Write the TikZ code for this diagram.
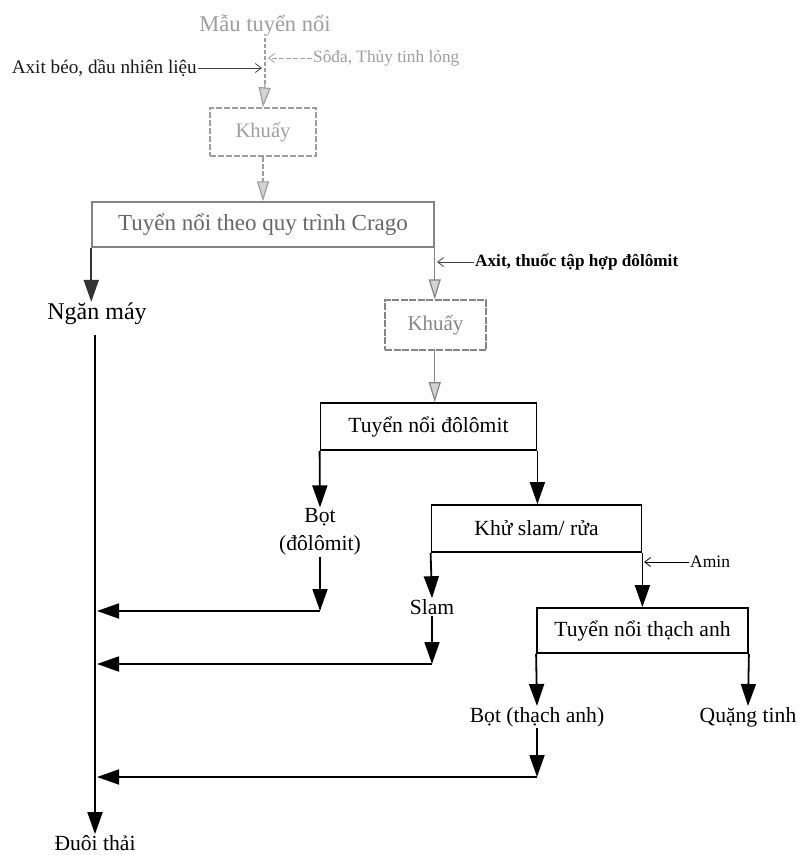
\documentclass[tikz,border=0pt]{standalone}
\usepackage{fontspec}
\setmainfont{Liberation Serif}
\usetikzlibrary{arrows.meta}
\definecolor{fadeA}{gray}{0.62}
\definecolor{fadeB}{gray}{0.40}
\definecolor{fadeC}{gray}{0.52}
\tikzset{
  ln/.style={line width=1.8pt},
  tri/.style={ln,-{Triangle[length=22pt,width=15pt]}},
  gtri/.style={line width=1.2pt,-{Triangle[length=20pt,width=12pt,fill=fadeA!45]}},
  barb/.style={line width=0.8pt,-{Straight Barb[length=6pt,width=9pt]}},
  lbl/.style={inner sep=1pt,font=\fontsize{21.6}{25}\selectfont},
  sml/.style={inner sep=1pt,font=\fontsize{18}{20}\selectfont},
  boxA/.style={draw,line width=1.8pt,inner sep=0pt,font=\fontsize{21.6}{24}\selectfont},
}
\begin{document}
\begin{tikzpicture}[x=1pt,y=-1pt]
\useasboundingbox (0,0) rectangle (801,855);

% top (faded) part
\node[sml,fadeA,font=\fontsize{22.5}{24}\selectfont] (mau) at (265,26) {Mẫu tuyển nổi};
\node[sml,anchor=east,text=black!90,font=\fontsize{19.2}{21}\selectfont] (axb) at (198,68) {Axit béo, dầu nhiên liệu};
\node[sml,anchor=west,fadeA,font=\fontsize{17.3}{19}\selectfont] (soda) at (312,58) {Sôđa, Thủy tinh lỏng};
\coordinate (jl) at (262,68);
\coordinate (jr) at (268,58);
\node[boxA,draw=fadeA,text=fadeA,line width=1.3pt,dash pattern=on 6pt off 2pt,minimum width=106pt,minimum height=48pt,font=\fontsize{20.6}{23}\selectfont] (k1) at (263,132) {Khuấy};
\draw[fadeA,line width=1.1pt,dash pattern=on 4pt off 2pt] (mau.south) -- (265,84);
\coordinate (a1) at (265,84);
\draw[gtri,draw=fadeA] (a1) -- (k1.north);
\draw[barb,black!75] (axb.east) -- (jl);
\draw[barb,fadeA,dash pattern=on 5pt off 2pt] (soda.west) -- (jr);

\node[boxA,draw=fadeC,text=fadeB,line width=1.5pt,minimum width=342pt,minimum height=45pt,font=\fontsize{23}{25}\selectfont] (crago) at (263,224.5) {Tuyển nổi theo quy trình Crago};
\draw[gtri,draw=fadeA,dash pattern=on 5pt off 2pt] (k1.south) -- (crago.north -| k1.south);

\node[lbl,font=\fontsize{24}{26}\selectfont] (ngan) at (97,314) {Ngăn máy};
\draw[tri,black!80] (crago.south west) -- (ngan.north -| crago.south west);

\node[boxA,draw=fadeC,text=fadeC,line width=1.4pt,dash pattern=on 7pt off 1.5pt,minimum width=101pt,minimum height=50pt,font=\fontsize{21}{23}\selectfont] (k2) at (435.5,325) {Khuấy};
\coordinate (cr) at (434,247);
\draw[gtri,draw=fadeC] (crago.south east) -- (k2.north -| crago.south east);
\node[sml,anchor=west,font=\bfseries\fontsize{17.2}{19}\selectfont] (ax2) at (474,262) {Axit, thuốc tập hợp đôlômit};
\coordinate (ja) at (437,262);
\draw[barb,black!75] (ax2.west) -- (ja);

% dolomite flotation
\node[boxA,minimum width=216pt,minimum height=47pt] (dolo) at (428.5,426.5) {Tuyển nổi đôlômit};
\draw[gtri,draw=fadeC] (k2.south -| crago.south east) -- (dolo.north -| crago.south east);

\node[lbl,align=center,font=\fontsize{21.6}{28}\selectfont] (bot1) at (320,532) {Bọt\\(đôlômit)};
\draw[tri] (dolo.south west) -- (bot1.north);

\node[boxA,minimum width=210pt,minimum height=47pt] (khu) at (536.5,528.5) {Khử slam/ rửa};
\draw[tri] (dolo.south east) -- (dolo.south east |- khu.north);

\node[lbl] (slam) at (432,607) {Slam};
\draw[tri] (khu.south west) -- (slam.north);

\node[sml,anchor=west,font=\fontsize{17.5}{19}\selectfont] (amin) at (689,562) {Amin};
\coordinate (jm) at (644,562);
\draw[barb] (amin.west) -- (jm);

\node[boxA,minimum width=211pt,minimum height=45pt] (thach) at (642.5,630.5) {Tuyển nổi thạch anh};
\draw[tri] (khu.south east) -- (khu.south east |- thach.north);

\node[lbl] (bot2) at (537,717) {Bọt (thạch anh)};
\node[lbl] (quang) at (748,717) {Quặng tinh};
\draw[tri] (thach.south west) -- (bot2.north);
\draw[tri] (thach.south east) -- (quang.north);

% tailings line
\node[lbl] (duoi) at (95,843) {Đuôi thải};
\coordinate (m0) at (95,335);
\draw[tri] (m0) -- (duoi.north);

\coordinate (r1) at (320,611);
\coordinate (r2) at (432,664);
\coordinate (r3) at (537,777);
\draw[tri] (bot1.south) -- (r1);
\draw[tri] (r1) -- (97,611);
\draw[tri] (slam.south) -- (r2);
\draw[tri] (r2) -- (97,664);
\draw[tri] (bot2.south) -- (r3);
\draw[tri] (r3) -- (97,777);
\end{tikzpicture}
\end{document}
